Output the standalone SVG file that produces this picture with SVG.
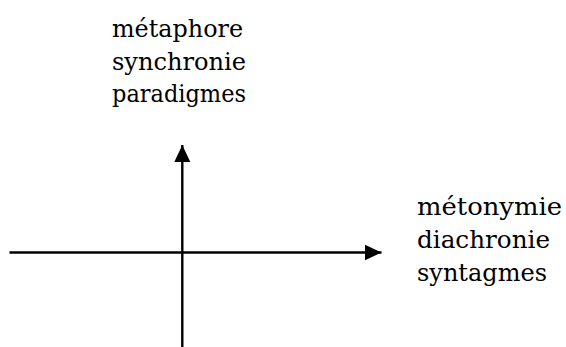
<svg xmlns="http://www.w3.org/2000/svg" width="566" height="347" viewBox="0 0 566 347">
  <style>
    .axis { stroke: #000; stroke-width: 2.4; fill: none; }
    .label { font-family: "DejaVu Serif", "Liberation Serif", serif; font-size: 24px; fill: #000; }
  </style>
  <defs>
    <marker id="arrow" markerUnits="userSpaceOnUse" markerWidth="18" markerHeight="18" viewBox="0 0 18 18" refX="17" refY="9" orient="auto">
      <path d="M0,1 L17,9 L0,17 Z" fill="#000"/>
    </marker>
  </defs>
  <rect width="566" height="347" fill="#fff"/>
  <g id="connectors">
    <line id="axis-vertical" class="axis" x1="182.3" y1="347" x2="182.3" y2="145" marker-end="url(#arrow)"/>
    <line id="axis-horizontal" class="axis" x1="9.5" y1="252.5" x2="381.5" y2="252.5" marker-end="url(#arrow)"/>
  </g>
  <g id="node-top">
    <text class="label" x="112" y="37" textLength="131" lengthAdjust="spacingAndGlyphs">métaphore</text>
    <text class="label" x="112" y="69.5" textLength="134" lengthAdjust="spacingAndGlyphs">synchronie</text>
    <text class="label" x="112" y="102" textLength="134" lengthAdjust="spacingAndGlyphs">paradigmes</text>
  </g>
  <g id="node-right">
    <text class="label" x="417" y="215" textLength="145" lengthAdjust="spacingAndGlyphs">métonymie</text>
    <text class="label" x="417" y="247.5" textLength="133" lengthAdjust="spacingAndGlyphs">diachronie</text>
    <text class="label" x="417" y="280.5" textLength="130" lengthAdjust="spacingAndGlyphs">syntagmes</text>
  </g>
</svg>
